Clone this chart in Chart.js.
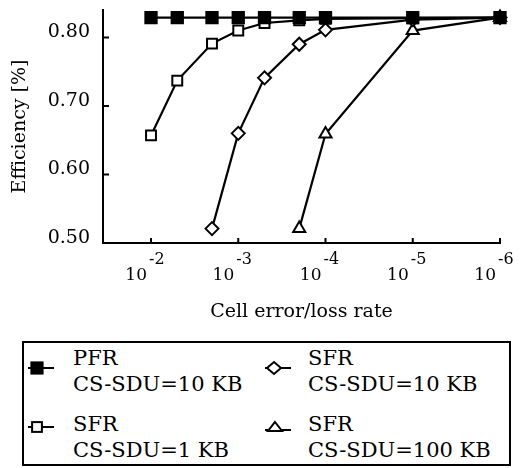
<!DOCTYPE html>
<html>
<head>
<meta charset="utf-8">
<script src="https://cdn.jsdelivr.net/npm/chart.js@4"></script>
<style>
  body { margin: 0; background: #fff; }
  #wrap { position: relative; width: 521px; height: 468px; font-family: "DejaVu Serif", serif; color: #000; }
  #chartBox { position: absolute; left: 0; top: 0; width: 521px; height: 335px; }
  #legend {
    position: absolute; left: 22px; top: 341px; width: 485px; height: 121px;
    border: 2px solid #000;
  }
  .txt { position: absolute; font-size: 21px; line-height: 26px; white-space: nowrap; }
  .mk { position: absolute; }
  .txt.c1 { left: 49px; }  .txt.c2 { left: 284px; }
  .txt.r1 { top: 2px; }    .txt.r2 { top: 68px; }
  .mk.c1 { left: 2px; }    .mk.c2 { left: 239px; }
  .mk.r1 { top: 17px; }    .mk.r2 { top: 76px; }
</style>
</head>
<body>
<div id="wrap">
  <div id="chartBox"><canvas id="effChart"></canvas></div>
  <div id="legend"></div>
</div>
<script>
// cell error/loss rates on the x axis
const rates = [1e-2, 5e-3, 2e-3, 1e-3, 5e-4, 2e-4, 1e-4, 1e-5, 1e-6];

// efficiency for each curve (null = no point)
const pfr10 = [0.829, 0.829, 0.829, 0.829, 0.829, 0.829, 0.829, 0.829, 0.829];
const sfr1 = [0.657, 0.737, 0.791, 0.810, 0.821, 0.825, 0.827, 0.828, 0.829];
const sfr10 = [null, null, 0.521, 0.660, 0.741, 0.790, 0.811, 0.826, 0.829];
const sfr100 = [null, null, null, null, null, 0.521, 0.659, 0.810, 0.829];

// legend texts
const seriesNames = [
    ['PFR', 'CS-SDU=10 KB'],
    ['SFR', 'CS-SDU=1 KB'],
    ['SFR', 'CS-SDU=10 KB'],
    ['SFR', 'CS-SDU=100 KB']
];

// axis ticks
const xTicks = [1e-2, 1e-3, 1e-4, 1e-5, 1e-6];
const xTickExp = ['-2', '-3', '-4', '-5', '-6'];
const yTicks = [0.50, 0.60, 0.70, 0.80];

function toPoints(vals) {
    return rates.map((r, i) => ({ x: r, y: vals[i] }));
}

// draws the inward tick marks and the 10^n labels
const axisDecor = {
    id: 'axisDecor',
    afterDraw(chart) {
        const ctx = chart.ctx;
        const xs = chart.scales.x;
        const ys = chart.scales.y;
        const area = chart.chartArea;
        ctx.save();
        ctx.strokeStyle = '#000';
        ctx.lineWidth = 2;
        ctx.beginPath();
        xTicks.forEach(v => {
            const px = xs.getPixelForValue(v);
            ctx.moveTo(px, area.bottom);
            ctx.lineTo(px, area.bottom - 5);
        });
        yTicks.forEach(v => {
            const py = ys.getPixelForValue(v);
            ctx.moveTo(area.left, py);
            ctx.lineTo(area.left + 6, py);
        });
        ctx.stroke();

        ctx.fillStyle = '#000';
        ctx.textBaseline = 'alphabetic';
        xTicks.forEach((v, i) => {
            const px = xs.getPixelForValue(v);
            ctx.font = '17px "DejaVu Serif"';
            ctx.textAlign = 'right';
            ctx.fillText('10', px - 4, area.bottom + 37);
            ctx.font = '16px "DejaVu Serif"';
            ctx.textAlign = 'left';
            ctx.fillText(xTickExp[i], px - 2, area.bottom + 21);
        });
        ctx.restore();
    }
};

const ctx = document.getElementById('effChart').getContext('2d');
const effChart = new Chart(ctx, {
    type: 'line',
    data: {
        datasets: [{
            label: 'PFR CS-SDU=10 KB',
            data: toPoints(pfr10),
            pointStyle: 'rect',
            pointRadius: 8,
            backgroundColor: '#000'
        }, {
            label: 'SFR CS-SDU=1 KB',
            data: toPoints(sfr1),
            pointStyle: 'rect',
            pointRadius: 7,
            backgroundColor: '#fff'
        }, {
            label: 'SFR CS-SDU=10 KB',
            data: toPoints(sfr10),
            pointStyle: 'rectRot',
            pointRadius: 6.5,
            backgroundColor: '#fff'
        }, {
            label: 'SFR CS-SDU=100 KB',
            data: toPoints(sfr100),
            pointStyle: 'triangle',
            pointRadius: 7,
            backgroundColor: '#fff'
        }]
    },
    options: {
        responsive: true,
        maintainAspectRatio: false,
        animation: false,
        datasets: {
            line: {
                borderColor: '#000',
                borderWidth: 2.2,
                pointBorderColor: '#000',
                pointBorderWidth: 2,
                tension: 0,
                clip: false
            }
        },
        layout: { padding: { left: 0, right: 21, top: 5, bottom: 0 } },
        plugins: {
            legend: { display: false },
            tooltip: { enabled: false }
        },
        scales: {
            x: {
                type: 'logarithmic',
                reverse: true,
                min: 1e-6,
                max: 0.0355,
                grid: { display: false },
                border: { display: true, color: '#000', width: 2 },
                ticks: { display: false },
                afterBuildTicks: scale => { scale.ticks = xTicks.map(v => ({ value: v })); },
                afterFit: scale => { scale.height = 92; },
                title: {
                    display: true,
                    text: 'Cell error/loss rate',
                    color: '#000',
                    font: { family: 'DejaVu Serif', size: 19 },
                    padding: { top: 0, bottom: 12 }
                }
            },
            y: {
                min: 0.50,
                max: 0.84,
                grid: { display: false, drawTicks: false },
                border: { display: true, color: '#000', width: 2 },
                ticks: {
                    color: '#000',
                    font: { family: 'DejaVu Serif', size: 19 },
                    padding: 13,
                    labelOffset: -5,
                    callback: v => v.toFixed(2)
                },
                afterBuildTicks: scale => { scale.ticks = yTicks.map(v => ({ value: v })); },
                afterFit: scale => { scale.width = 103; scale.paddingTop = 0; scale.paddingBottom = 0; },
                title: {
                    display: true,
                    text: 'Efficiency [%]',
                    color: '#000',
                    font: { family: 'DejaVu Serif', size: 19 },
                    padding: { top: 9, bottom: 0 }
                }
            }
        }
    },
    plugins: [axisDecor]
});

// legend built from the datasets
function markerSvg(ds) {
    const fill = ds.backgroundColor;
    let shape = '';
    let lineY = 8;
    if (ds.pointStyle === 'rect') {
        const s = ds.pointRadius * 1.4;
        shape = '<rect x="' + (11 - s / 2) + '" y="' + (8 - s / 2) + '" width="' + s + '" height="' + s + '" fill="' + fill + '" stroke="#000" stroke-width="2"/>';
    } else if (ds.pointStyle === 'rectRot') {
        shape = '<polygon points="4,8 11,2 18,8 11,14" fill="' + fill + '" stroke="#000" stroke-width="2"/>';
    } else {
        lineY = 11;
        shape = '<polygon points="12,3 19,12 5,12" fill="' + fill + '" stroke="#000" stroke-width="2"/>';
    }
    return '<line x1="2" y1="' + lineY + '" x2="28" y2="' + lineY + '" stroke="#000" stroke-width="2"/>' + shape;
}

const legendEl = document.getElementById('legend');
effChart.data.datasets.forEach((ds, i) => {
    const pos = (i < 2 ? 'c1' : 'c2') + ' ' + (i % 2 === 0 ? 'r1' : 'r2');
    const mk = document.createElementNS('http://www.w3.org/2000/svg', 'svg');
    mk.setAttribute('width', '30');
    mk.setAttribute('height', '16');
    mk.setAttribute('class', 'mk ' + pos);
    mk.innerHTML = markerSvg(ds);
    legendEl.appendChild(mk);
    const txt = document.createElement('div');
    txt.className = 'txt ' + pos;
    txt.innerHTML = seriesNames[i].join('<br>');
    legendEl.appendChild(txt);
});
</script>
</body>
</html>
